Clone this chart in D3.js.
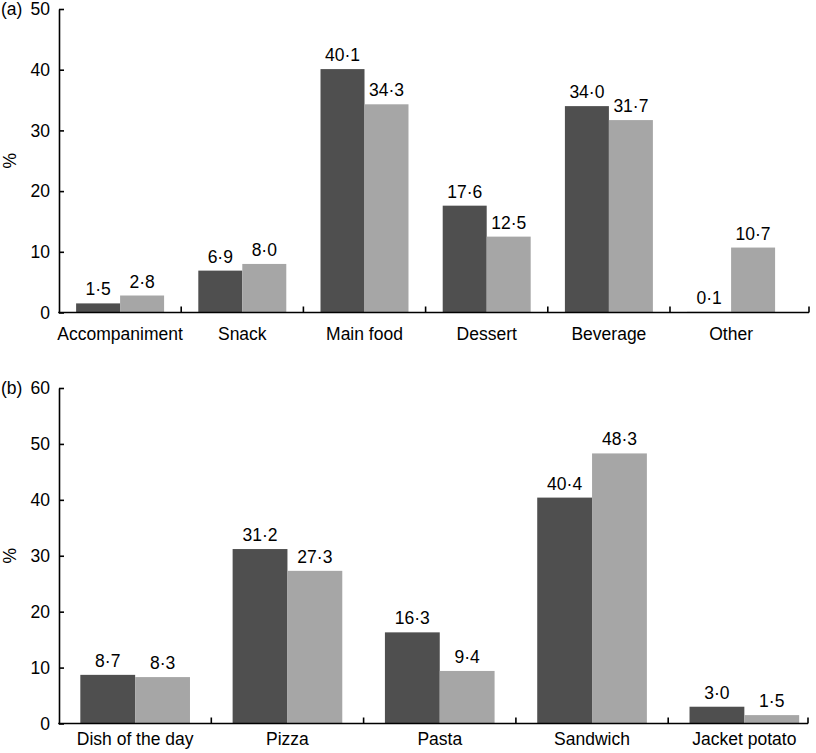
<!DOCTYPE html>
<html>
<head>
<meta charset="utf-8">
<script src="https://cdn.jsdelivr.net/npm/d3@7"></script>
<style>
  body { margin: 0; background: #fff; }
  svg { display: block; font-family: "Liberation Sans", Arial, sans-serif; }
</style>
</head>
<body>
<div id="chart"></div>
<script>
// panel (a) data
const categoriesA = ['Accompaniment', 'Snack', 'Main food', 'Dessert', 'Beverage', 'Other'];
const darkA = [1.5, 6.9, 40.1, 17.6, 34.0, 0.1];
const lightA = [2.8, 8.0, 34.3, 12.5, 31.7, 10.7];
const ticksA = [0, 10, 20, 30, 40, 50];

// panel (b) data
const categoriesB = ['Dish of the day', 'Pizza', 'Pasta', 'Sandwich', 'Jacket potato'];
const darkB = [8.7, 31.2, 16.3, 40.4, 3.0];
const lightB = [8.3, 27.3, 9.4, 48.3, 1.5];
const ticksB = [0, 10, 20, 30, 40, 50, 60];

const width = 816;
const height = 753;
const darkColor = '#4f4f4f';
const lightColor = '#a6a6a6';
const fontSize = 17.5;

const svg = d3.select('#chart').append('svg')
    .attr('width', width)
    .attr('height', height);

const fmt = (v) => d3.format('.1f')(v).replace('.', '·');

function drawPanel(opts) {
    const g = svg.append('g');
    const { categories, dark, light, ticks, left, band, top, bottom, axisEnd, labelY, tag } = opts;

    const x = d3.scaleBand()
        .domain(categories)
        .range([left, left + band * categories.length])
        .padding(0);

    const y = d3.scaleLinear()
        .domain([0, d3.max(ticks)])
        .range([bottom, top]);

    const barW = x.bandwidth() * 0.36;

    // bars
    const series = [
        { values: dark, color: darkColor, offset: -barW },
        { values: light, color: lightColor, offset: 0 }
    ];
    series.forEach((s) => {
        g.selectAll(null)
            .data(categories)
            .enter()
            .append('rect')
            .attr('x', (d) => x(d) + x.bandwidth() / 2 + s.offset)
            .attr('y', (d, i) => y(s.values[i]))
            .attr('width', barW)
            .attr('height', (d, i) => bottom - y(s.values[i]))
            .attr('fill', s.color);

        g.selectAll(null)
            .data(categories)
            .enter()
            .append('text')
            .attr('x', (d) => x(d) + x.bandwidth() / 2 + s.offset + barW / 2)
            .attr('y', (d, i) => y(s.values[i]) - 8)
            .attr('text-anchor', 'middle')
            .attr('font-size', fontSize)
            .attr('fill', '#000')
            .text((d, i) => fmt(s.values[i]));
    });

    // y axis (ticks pointing inward)
    const yAxis = d3.axisLeft(y)
        .tickValues(ticks)
        .tickSizeInner(-5)
        .tickSizeOuter(0)
        .tickPadding(9)
        .tickFormat(d3.format('d'));
    const yg = g.append('g')
        .attr('transform', `translate(${left},0)`)
        .call(yAxis);
    yg.select('.domain').attr('stroke', '#000').attr('stroke-width', 1.6);
    yg.selectAll('.tick line').attr('stroke', '#000').attr('stroke-width', 1.6);
    yg.selectAll('.tick text')
        .attr('font-size', fontSize)
        .attr('font-family', '"Liberation Sans", Arial, sans-serif')
        .attr('fill', '#000');

    // x axis line
    g.append('line')
        .attr('x1', left - 0.8)
        .attr('x2', axisEnd)
        .attr('y1', bottom)
        .attr('y2', bottom)
        .attr('stroke', '#000')
        .attr('stroke-width', 1.6);

    // category separators (ticks up) + end tick
    const sep = categories.slice(0, -1).map((c) => x(c) + x.bandwidth());
    sep.push(axisEnd);
    g.selectAll(null)
        .data(sep)
        .enter()
        .append('line')
        .attr('x1', (d) => d)
        .attr('x2', (d) => d)
        .attr('y1', bottom)
        .attr('y2', bottom - 6)
        .attr('stroke', '#000')
        .attr('stroke-width', 1.6);

    // category labels
    g.selectAll(null)
        .data(categories)
        .enter()
        .append('text')
        .attr('x', (d) => x(d) + x.bandwidth() / 2)
        .attr('y', labelY)
        .attr('text-anchor', 'middle')
        .attr('font-size', fontSize)
        .attr('fill', '#000')
        .text((d) => d);

    // y label
    g.append('text')
        .attr('transform', `translate(16,${(top + bottom) / 2}) rotate(-90)`)
        .attr('text-anchor', 'middle')
        .attr('font-size', fontSize)
        .attr('fill', '#000')
        .text('%');

    // panel tag
    g.append('text')
        .attr('x', 1)
        .attr('y', top + 6)
        .attr('font-size', fontSize)
        .attr('fill', '#000')
        .text(tag);
}

drawPanel({
    categories: categoriesA, dark: darkA, light: lightA, ticks: ticksA,
    left: 59, band: 122.2, top: 9, bottom: 312.5, axisEnd: 809, labelY: 340, tag: '(a)'
});

drawPanel({
    categories: categoriesB, dark: darkB, light: lightB, ticks: ticksB,
    left: 59, band: 152.3, top: 388, bottom: 723.5, axisEnd: 808, labelY: 745, tag: '(b)'
});
</script>
</body>
</html>
